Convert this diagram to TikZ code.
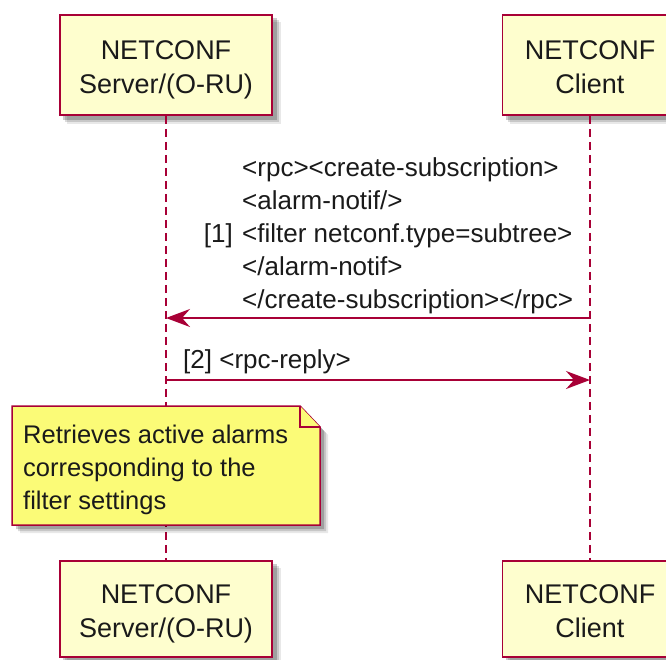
\documentclass[tikz,border=0pt]{standalone}
\usepackage{fontspec}
\setmainfont{Liberation Sans}
\usetikzlibrary{arrows.meta,backgrounds}
\definecolor{umlborder}{HTML}{A80036}
\definecolor{partfill}{HTML}{FEFECE}
\definecolor{notefill}{HTML}{FBFB77}
\definecolor{txtcol}{HTML}{1A1A1A}
\tikzset{
  partbox/.style={draw=umlborder,fill=partfill,line width=1.5pt,inner sep=0pt},
  parttext/.style={anchor=base,inner sep=0pt,text=txtcol,font=\fontsize{27pt}{34pt}\selectfont},
  msgtext/.style={inner sep=0pt,text=txtcol,font=\fontsize{26pt}{33pt}\selectfont},
  lifeline/.style={draw=umlborder,line width=1.5pt,dash pattern=on 8pt off 5pt},
  msg/.style={draw=umlborder,line width=1.5pt,-{Stealth[length=24pt,width=18pt,inset=8pt]}},
  noteshape/.style={draw=umlborder,fill=notefill,line width=1.5pt,line join=miter},
  notetext/.style={inner sep=0pt,text=txtcol,font=\fontsize{25.5pt}{33pt}\selectfont},
  shadelayer/.style={fill=black,opacity=#1}
}
\newcommand{\boxshadow}[1]{%
  \fill[shadelayer=.09] ([shift={(8pt,-8pt)}]#1.south west) rectangle ([shift={(8pt,-8pt)}]#1.north east);
  \fill[shadelayer=.14] ([shift={(6pt,-6pt)}]#1.south west) rectangle ([shift={(6pt,-6pt)}]#1.north east);
  \fill[shadelayer=.20] ([shift={(4pt,-4pt)}]#1.south west) rectangle ([shift={(4pt,-4pt)}]#1.north east);
}
\begin{document}
\begin{tikzpicture}[x=1pt,y=-1pt]
\useasboundingbox (0,0) rectangle (666,659);
% participant boxes
\node[partbox,minimum width=212pt,minimum height=100pt] (srvTop) at (166,65) {};
\node[partbox,minimum width=175pt,minimum height=100pt] (cliTop) at (590,65) {};
\node[partbox,minimum width=212pt,minimum height=96pt] (srvBot) at (166,609) {};
\node[partbox,minimum width=175pt,minimum height=96pt] (cliBot) at (590,609) {};
\begin{scope}[on background layer]
  \boxshadow{srvTop}
  \boxshadow{cliTop}
  \boxshadow{srvBot}
  \boxshadow{cliBot}
\end{scope}
\node[parttext] (srvTopTxt) at (166,59) {\begin{tabular}[t]{@{}c@{}}NETCONF\\Server/(O-RU)\end{tabular}};
\node[parttext] (cliTopTxt) at (590,59) {\begin{tabular}[t]{@{}c@{}}NETCONF\\Client\end{tabular}};
\node[parttext] (srvBotTxt) at (166,603) {\begin{tabular}[t]{@{}c@{}}NETCONF\\Server/(O-RU)\end{tabular}};
\node[parttext] (cliBotTxt) at (590,603) {\begin{tabular}[t]{@{}c@{}}NETCONF\\Client\end{tabular}};
% lifelines
\begin{scope}[on background layer]
\draw[lifeline] (srvTop.south) -- (srvBot.north);
\draw[lifeline] (cliTop.south) -- (cliBot.north);
\end{scope}
% message 1
\coordinate (c1) at (590,318);
\coordinate (s1) at (166,318);
\draw[msg] (c1) -- (s1);
\node[msgtext,anchor=base west] (m1txt) at (242,176) {\begin{tabular}[t]{@{}l@{}}
<rpc><create-subscription>\\
<alarm-notif/>\\
<filter netconf.type=subtree>\\
</alarm-notif>\\
</create-subscription></rpc>\end{tabular}};
\node[msgtext,anchor=base east] (m1num) at (233,242) {[1]};
% message 2
\coordinate (s2) at (166,380);
\coordinate (c2) at (590,380);
\draw[msg] (s2) -- (c2);
\node[msgtext,anchor=base west] (m2txt) at (183,368) {[2] <rpc-reply>};
% note
\fill[shadelayer=.09] (20,414) -- (308,414) -- (328,435) -- (328,533) -- (20,533) -- cycle;
\fill[shadelayer=.14] (18,412) -- (306,412) -- (326,433) -- (326,531) -- (18,531) -- cycle;
\fill[shadelayer=.20] (16,410) -- (304,410) -- (324,431) -- (324,529) -- (16,529) -- cycle;
\draw[noteshape] (12,406) -- (300,406) -- (320,427) -- (320,525) -- (12,525) -- cycle;
\draw[noteshape] (300,406) -- (300,427) -- (320,427);
\node[notetext,anchor=base west] (noteTxt) at (23,443) {\begin{tabular}[t]{@{}l@{}}Retrieves active alarms\\corresponding to the\\filter settings\end{tabular}};
\end{tikzpicture}
\end{document}
